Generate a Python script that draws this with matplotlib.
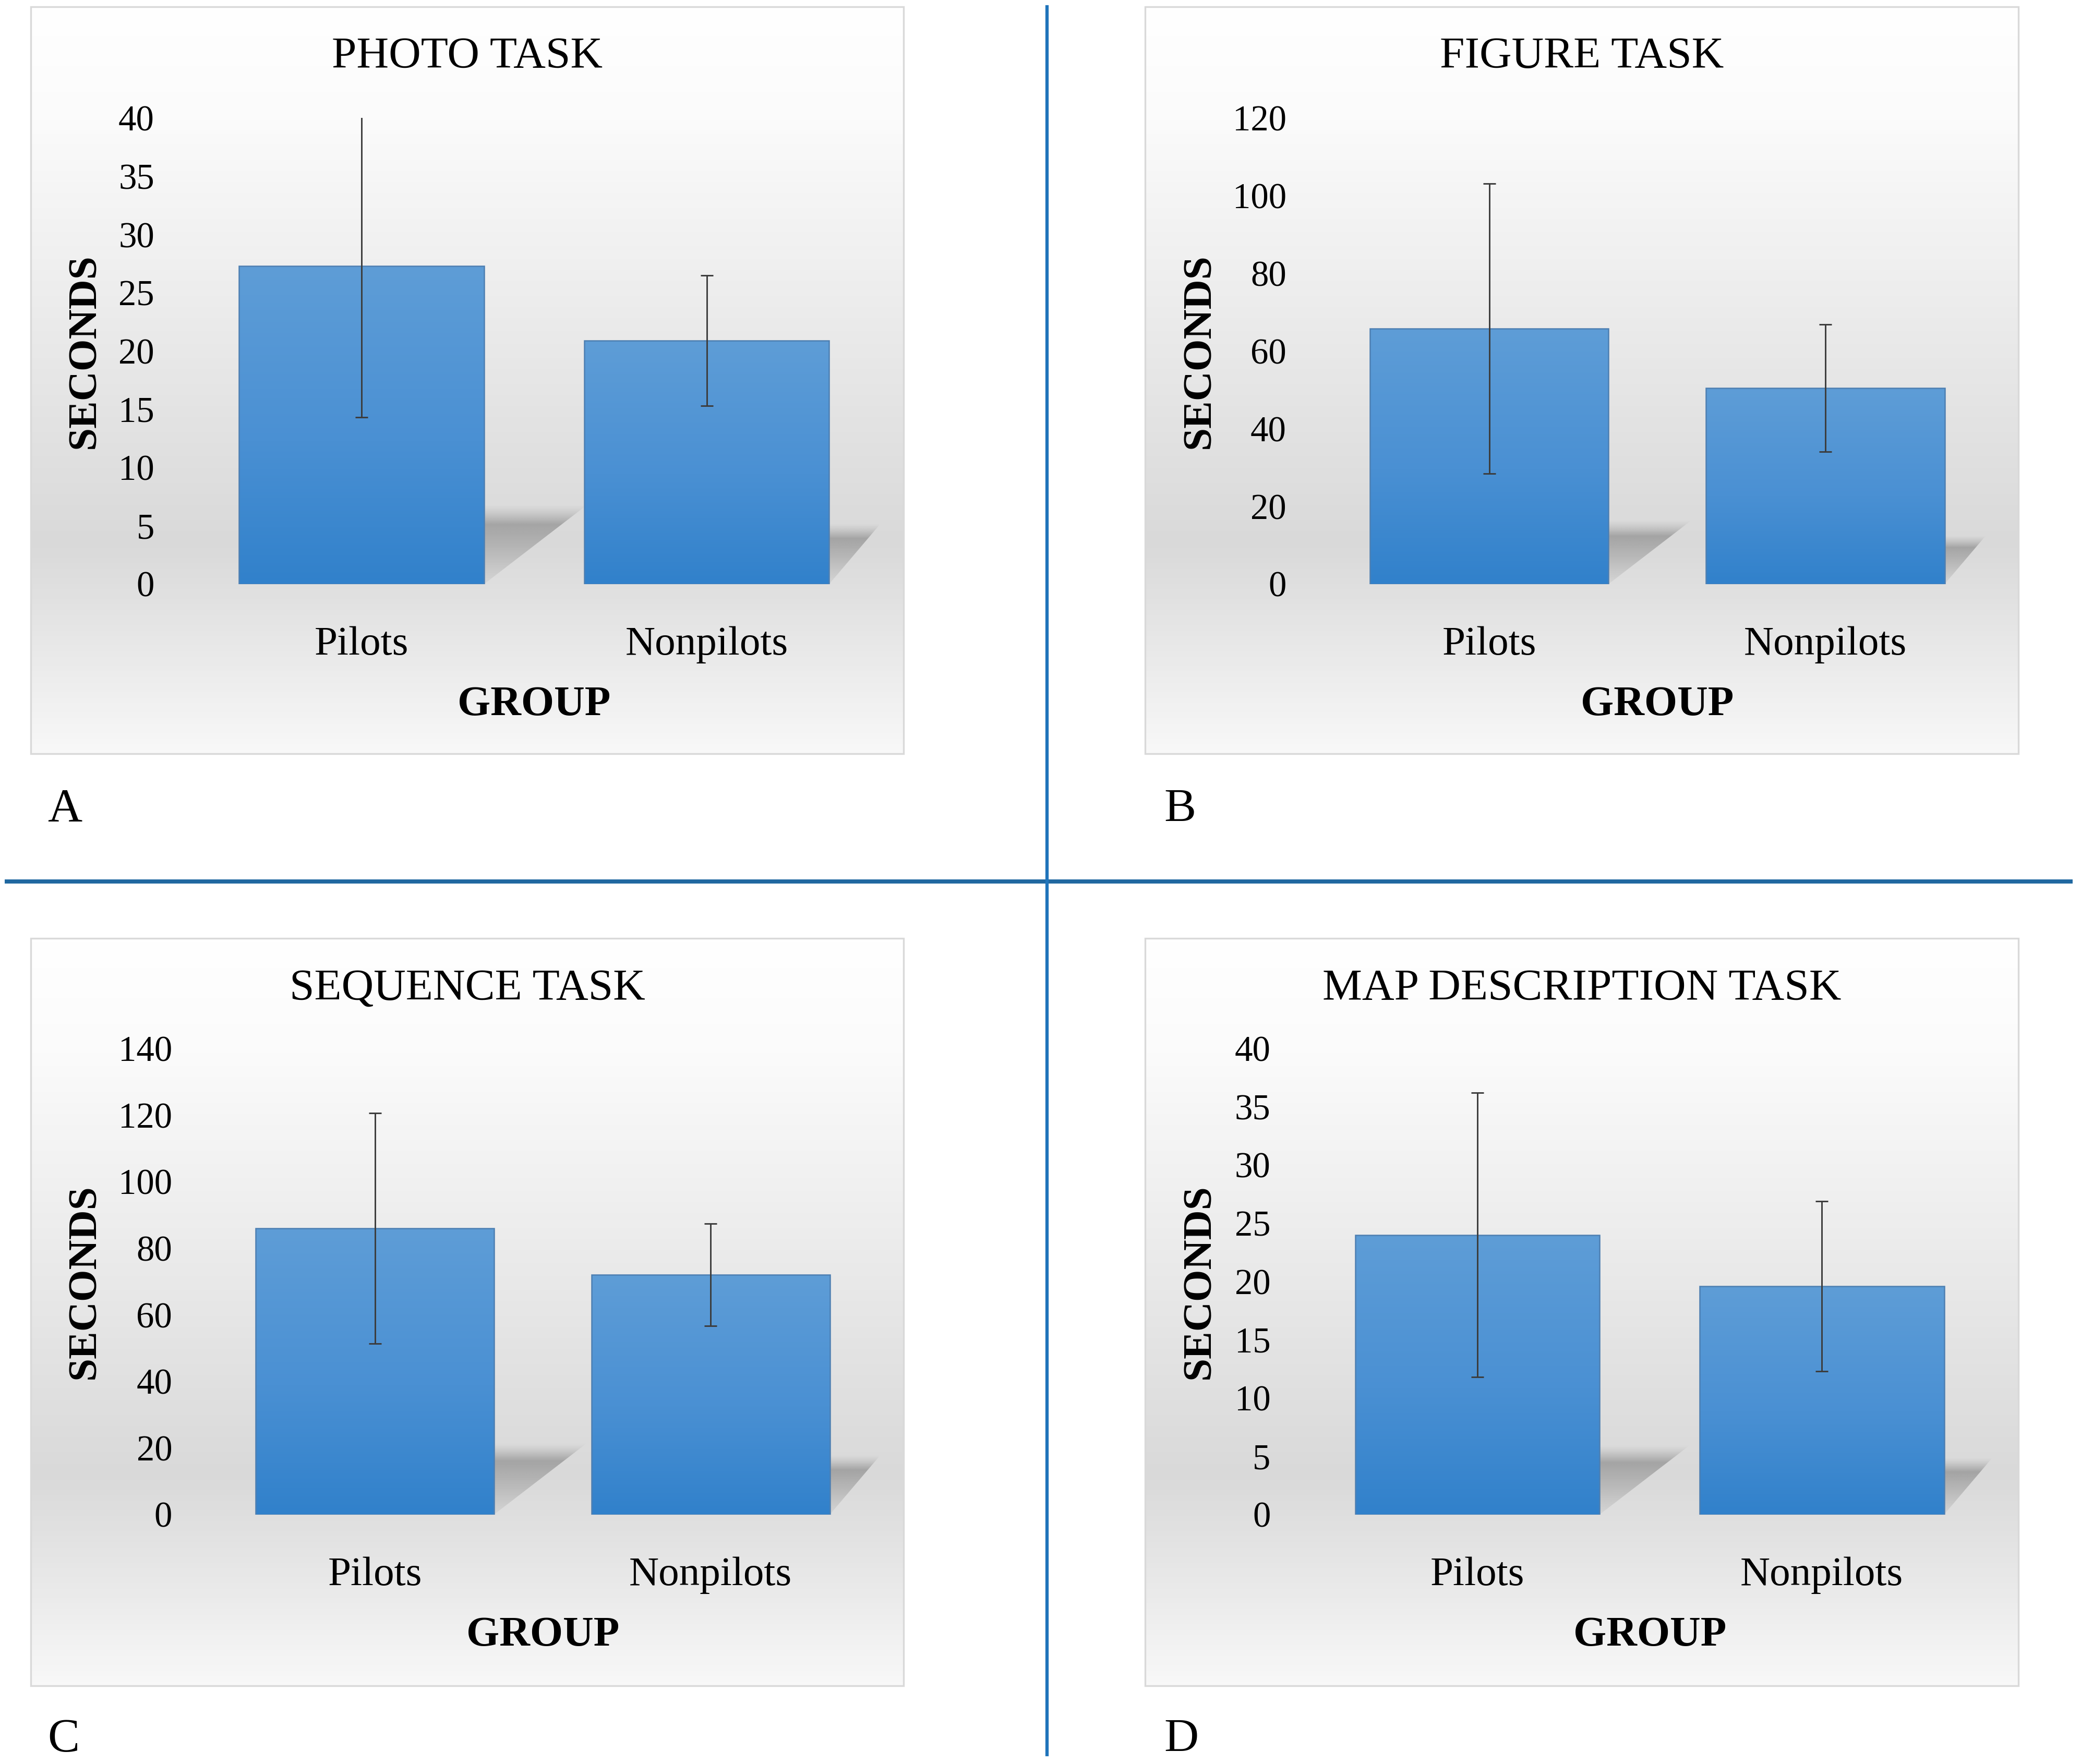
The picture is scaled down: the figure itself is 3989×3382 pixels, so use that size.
import numpy as np
import matplotlib
matplotlib.use("Agg")
import matplotlib.pyplot as plt
from matplotlib.colors import LinearSegmentedColormap
from matplotlib.patches import Rectangle, Polygon
from matplotlib.lines import Line2D

plt.rcParams['font.family'] = ['Liberation Serif', 'DejaVu Serif']

# ---- data ----
groups = ['Pilots', 'Nonpilots']
titles = ['PHOTO TASK', 'FIGURE TASK', 'SEQUENCE TASK', 'MAP DESCRIPTION TASK']
letters = ['A', 'B', 'C', 'D']

photo_mean = [27.3, 20.9]
photo_err = [13.0, 5.6]
figure_mean = [65.8, 50.5]
figure_err = [37.4, 16.4]
sequence_mean = [86.0, 72.0]
sequence_err = [34.6, 15.4]
map_mean = [24.0, 19.6]
map_err = [12.2, 7.3]

photo_ticks = [0, 5, 10, 15, 20, 25, 30, 35, 40]
figure_ticks = [0, 20, 40, 60, 80, 100, 120]
sequence_ticks = [0, 20, 40, 60, 80, 100, 120, 140]
map_ticks = [0, 5, 10, 15, 20, 25, 30, 35, 40]

means = [photo_mean, figure_mean, sequence_mean, map_mean]
errs = [photo_err, figure_err, sequence_err, map_err]
ticks = [photo_ticks, figure_ticks, sequence_ticks, map_ticks]

# ---- layout, in units of a 1568 x 1329 canvas ----
W, H = 1568.0, 1329.0
boxes = [(23, 5, 681, 568), (863, 5, 1521, 568),
         (23, 707, 681, 1270), (863, 707, 1521, 1270)]
plots = [(142.5, 662.5, 440, 89), (995.5, 1502, 440, 89),
         (156, 662, 1141, 790), (983.5, 1502.5, 1141, 790)]
seconds_x = [64, 904, 64, 904]
letter_pos = [(36, 610), (877, 610), (36, 1311), (877, 1311)]
shear = [1.3, 0.85]
bar_w = 0.71


def fx(x):
    return x / W


def fy(y):
    return 1 - y / H


fig = plt.figure(figsize=(3989 / 300, 3382 / 300), dpi=300)
fig.patch.set_facecolor('white')

bg_cmap = LinearSegmentedColormap.from_list(
    'bg', [(0, '#ffffff'), (0.15, '#fbfbfb'), (0.72, '#d9d9d9'), (1.0, '#f8f8f8')])
bar_cmap = LinearSegmentedColormap.from_list(
    'bar', [(0, '#3181cb'), (0.45, '#4a90d3'), (1.0, '#5e9dd7')])

for k in range(4):
    bx0, by0, bx1, by1 = boxes[k]
    # panel background with gradient
    bg = fig.add_axes([fx(bx0), fy(by1), fx(bx1) - fx(bx0), fy(by0) - fy(by1)], zorder=0)
    grad = np.linspace(0, 1, 400).reshape(-1, 1)
    bg.imshow(grad, aspect='auto', cmap=bg_cmap, extent=(0, 1, 0, 1), origin='upper')
    bg.set_xlim(0, 1)
    bg.set_ylim(0, 1)
    bg.axis('off')
    bg.add_patch(Rectangle((0, 0), 1, 1, transform=bg.transAxes, fill=False,
                           edgecolor='#d9d9d9', linewidth=0.8, clip_on=False))

    l, r, yb, yt = plots[k]
    ax = fig.add_axes([fx(l), fy(yb), fx(r) - fx(l), fy(yt) - fy(yb)], zorder=1)
    ax.set_facecolor('none')
    x = np.arange(len(groups))
    ymax = ticks[k][-1]

    # px per data unit, for the shadow skew
    ppx = (r - l) / 2.0
    ppy = (yb - yt) / ymax

    # soft perspective shadows behind the bars
    for i in range(len(groups)):
        x0 = x[i] - bar_w / 2
        x1 = x[i] + bar_w / 2
        hs = 0.25 * means[k][i]
        dx = shear[i] * hs * ppy / ppx
        poly = Polygon([(x0, 0), (x1, 0), (x1 + dx, hs), (x0 + dx, hs)],
                       closed=True, transform=ax.transData)
        a = np.linspace(0, 1, 200)
        alpha = np.where(a < 0.75, 0.05 + 0.27 * a / 0.75, 0.32 * (1 - (a - 0.75) / 0.25) ** 1.3)
        img = np.zeros((200, 1, 4))
        img[..., :3] = 0.2
        img[:, 0, 3] = alpha[::-1]
        im = ax.imshow(img, extent=(x0, x1 + dx, 0, hs), aspect='auto', zorder=2,
                       interpolation='bilinear')
        im.set_clip_path(poly)

    # bars with gradient fill
    bars = ax.bar(x, means[k], width=bar_w, facecolor='none',
                  edgecolor='#4d7fb2', linewidth=0.6, zorder=4)
    for p in bars:
        g = np.linspace(1, 0, 200).reshape(-1, 1)
        im = ax.imshow(g, cmap=bar_cmap, vmin=0, vmax=1, aspect='auto', zorder=3,
                       extent=(p.get_x(), p.get_x() + p.get_width(), 0, p.get_height()))
        im.set_clip_path(p)

    ax.errorbar(x, means[k], yerr=errs[k], fmt='none', ecolor='#3c3c3c',
                elinewidth=0.7, capsize=2.8, capthick=0.7, zorder=5)

    ax.set_xlim(-0.5, 1.5)
    ax.set_ylim(0, ymax)
    ax.set_aspect('auto')
    ax.set_xticks(x)
    ax.set_xticklabels(groups, fontsize=19)
    ax.set_yticks(ticks[k])
    ax.set_yticklabels([str(t) for t in ticks[k]], fontsize=16.5)
    ax.tick_params(axis='both', length=0)
    ax.tick_params(axis='y', pad=16)
    ax.tick_params(axis='x', pad=19.5)
    for s in ax.spines.values():
        s.set_visible(False)

    ax.text(0.5, -91.0 / (yb - yt), 'GROUP', transform=ax.transAxes,
            ha='center', va='center', fontsize=19.5, fontweight='bold')
    fig.text(fx(seconds_x[k]), fy((yb + yt) / 2), 'SECONDS', rotation=90,
             ha='center', va='center', fontsize=19, fontweight='bold')
    fig.text(fx((bx0 + bx1) / 2), fy(by0 + 38), titles[k],
             ha='center', va='center', fontsize=20.5)
    lx, ly = letter_pos[k]
    fig.text(fx(lx), fy(ly), letters[k], ha='left', va='center', fontsize=22)

# dividing lines
fig.add_artist(Line2D([fx(5), fx(1560)], [fy(664), fy(664)], color='#2068a0',
                      linewidth=1.9, transform=fig.transFigure))
fig.add_artist(Line2D([fx(789), fx(789)], [fy(5), fy(1322)], color='#1f74bb',
                      linewidth=1.5, transform=fig.transFigure))

fig.savefig('out.png', dpi=300, facecolor='white')
